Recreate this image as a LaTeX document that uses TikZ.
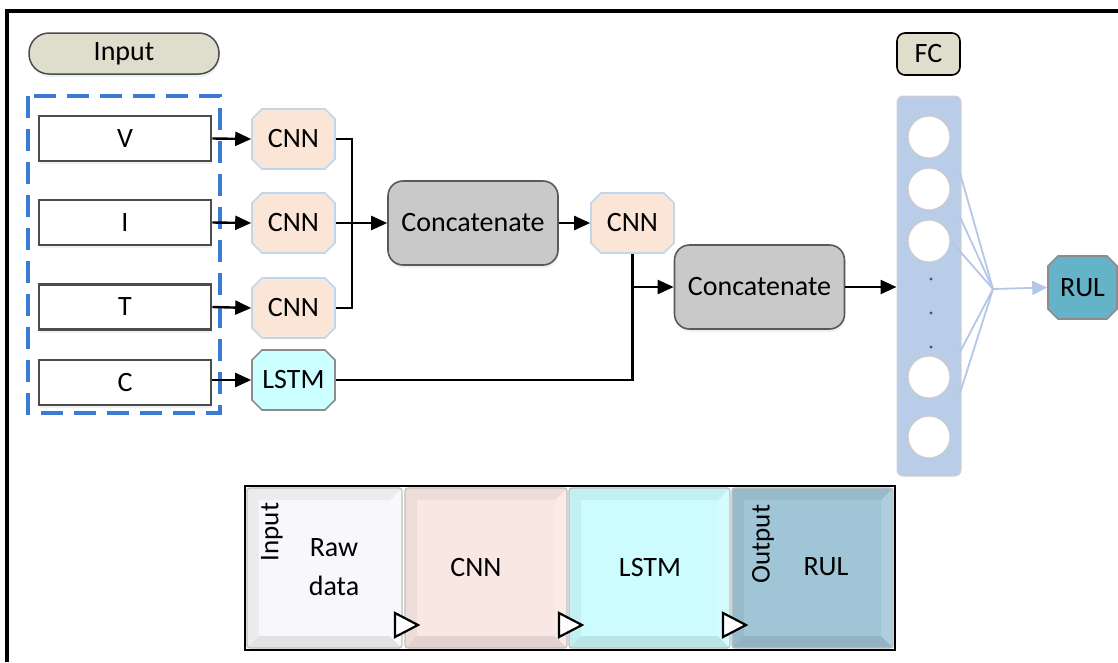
\documentclass[tikz,border=0pt]{standalone}
\usepackage{fontspec}
\setmainfont{Carlito}
\usetikzlibrary{shapes.misc,arrows.meta,shadows,calc}

\definecolor{pillfill}{HTML}{DFDECD}
\definecolor{cnnfill}{HTML}{FBE5D6}
\definecolor{cnnline}{HTML}{BDD7EE}
\definecolor{lstmfill}{HTML}{CCFFFF}
\definecolor{catfill}{HTML}{C9C9C9}
\definecolor{fcpanel}{HTML}{B9CDE8}
\definecolor{fcwire}{HTML}{B4C7E7}
\definecolor{rulfill}{HTML}{65B3C9}
\definecolor{dashblue}{HTML}{3A7BD5}
\definecolor{dotblue}{HTML}{2F5597}
\definecolor{tileA}{HTML}{F8F8FC}
\definecolor{tileB}{HTML}{F9E7E3}
\definecolor{tileC}{HTML}{CCFCFE}
\definecolor{tileD}{HTML}{9FC5D6}
\definecolor{glow}{HTML}{C9DAF0}

% bevelled legend tile: x1, y1, x2, y2, colour
\newcommand\bevtile[5]{%
  \fill[#5!91!black] (#1,#2) rectangle (#3,#4);
  \fill[#5!95!black] (#1,#2) -- (#3,#2) -- (#3-12,#2+12) -- (#1+12,#2+12) -- cycle;
  \fill[#5!95!black] (#1,#2) -- (#1+12,#2+12) -- (#1+12,#4-12) -- (#1,#4) -- cycle;
  \fill[#5!85!white] (#3,#2) -- (#3-12,#2+12) -- (#3-12,#4-12) -- (#3,#4) -- cycle;
  \fill[#5] (#1+12,#2+12) rectangle (#3-12,#4-12);
  \draw[gray!50, line width=1.2pt, rounded corners=3pt] (#1,#2) rectangle (#3,#4);
}

\tikzset{
  every node/.style={font=\fontsize{28}{33}\selectfont, inner sep=0pt},
  glowshadow/.style={drop shadow={shadow xshift=1pt, shadow yshift=-3pt, opacity=0.35, fill=glow}},
  pill/.style={draw=black!70, line width=1.5pt, fill=pillfill, rounded corners=20pt,
    minimum width=190pt, minimum height=41pt, glowshadow},
  inbox/.style={draw=black!70, line width=2.6pt, fill=white,
    minimum width=172pt, minimum height=45pt, glowshadow},
  cnnbox/.style={chamfered rectangle, chamfered rectangle xsep=5pt, chamfered rectangle ysep=5pt,
    draw=cnnline, line width=1.6pt, fill=cnnfill, minimum width=83pt, minimum height=60pt},
  lstmbox/.style={cnnbox, draw=black!45, fill=lstmfill},
  concat/.style={draw=black!65, line width=1.6pt, fill=catfill, rounded corners=15pt,
    minimum width=170pt, minimum height=84pt, glowshadow},
  fclabel/.style={draw=black, line width=1.6pt, fill=pillfill, rounded corners=8pt,
    minimum width=63pt, minimum height=42pt},
  fcpan/.style={draw=black!18, line width=1pt, fill=fcpanel, rounded corners=6pt,
    minimum width=64pt, minimum height=380pt},
  neuron/.style={circle, draw=black!20, line width=1.2pt, fill=white, minimum size=42pt},
  rulbox/.style={cnnbox, draw=black!45, fill=rulfill, minimum width=69pt, minimum height=63pt},
  wire/.style={line width=2.4pt, black},
  arr/.style={wire, -{Triangle[length=16pt,width=14pt]}},
  fcw/.style={line width=1.8pt, fcwire},
  hollow/.style={draw=black, line width=2.2pt, fill=white, line join=miter},
}

\begin{document}
\begin{tikzpicture}[x=1pt, y=-1pt]
\useasboundingbox (0,0) rectangle (1118,662);

% frame
\draw[line width=3.2pt] (7,662) -- (7,11) -- (1118,11);

% input group
\node[pill] (inp) at (124,53.5) {Input};
\draw[dashblue, line width=3.2pt, dash pattern=on 22pt off 11pt] (28,96) rectangle (220,413);
\node[inbox] (v) at (125,138.5) {V};
\node[inbox] (i) at (125,222.5) {I};
\node[inbox] (t) at (125,307) {T};
\node[inbox] (c) at (125,382.5) {C};

% first stage
\node[cnnbox] (cv) at (293.5,139) {CNN};
\node[cnnbox] (ci) at (293.5,223) {CNN};
\node[cnnbox] (ct) at (293.5,308) {CNN};
\node[lstmbox] (lstm) at (293.5,380) {LSTM};

\draw[arr] (v.east) -- (cv.west);
\draw[arr] (i.east) -- (ci.west);
\draw[arr] (t.east) -- (ct.west);
\draw[arr] (c.east |- lstm.west) -- (lstm.west);

% merge of the CNN branches
\node[concat] (cat1) at (473,223) {Concatenate};
\coordinate (bus) at (352,223);
\draw[wire] (cv.east) -| (bus) |- (ct.east);
\draw[arr] (ci.east) -- (cat1.west);

\node[cnnbox] (c3) at (632.5,223) {CNN};
\draw[arr] (cat1.east) -- (c3.west);

\node[concat] (cat2) at (759.5,287) {Concatenate};
\draw[wire] (lstm.east) -| (c3.south);
\coordinate (j) at (c3.south |- cat2.west);
\draw[arr] (j) -- (cat2.west);

% fully connected layer
\node[fclabel] (fcl) at (928.5,54) {FC};
\node[fcpan] (fc) at (929,286) {};
\draw[arr] (cat2.east) -- (fc.west |- cat2.east);

\coordinate (hub) at (993,289);
\coordinate (e1) at (960,173);
\coordinate (e2) at (960,217);
\coordinate (e3) at (950,240);
\coordinate (e4) at (960,352);
\coordinate (e5) at (960,393);
\foreach \e in {e1,e2,e3,e4,e5} \draw[fcw] (\e) -- (hub);

\node[neuron] (n1) at (929,137) {};
\node[neuron] (n2) at (929,189) {};
\node[neuron] (n3) at (929,241) {};
\node[neuron] (n4) at (929,377) {};
\node[neuron] (n5) at (929,437) {};
\foreach \y in {279,313,347} \fill[dotblue] (931,\y) circle (1.6pt);

\node[rulbox] (rul) at (1082.5,287.5) {RUL};
\draw[fcw, -{Triangle[length=15pt,width=14pt]}] (hub) -- (rul.west);

% legend strip
\bevtile{247}{488}{402}{648}{tileA}
\bevtile{405}{488}{567}{648}{tileB}
\bevtile{569}{488}{730}{648}{tileC}
\bevtile{732}{488}{893}{648}{tileD}
\draw[line width=2.4pt] (245,486) rectangle (895,650);

\node[rotate=90, font=\fontsize{27}{30}\selectfont] (lin) at (272,532) {Input};
\node[align=center, font=\fontsize{28}{39}\selectfont] (lraw) at (334,567) {Raw\\data};
\node (lcnn) at (476,567) {CNN};
\node (llstm) at (650,567) {LSTM};
\node[rotate=90, font=\fontsize{27}{30}\selectfont] (lout) at (763,544) {Output};
\node (lrul) at (826,567) {RUL};

\foreach \x in {395,559,723}
  \draw[hollow] (\x,613) -- (\x+23,625) -- (\x,637) -- cycle;
\end{tikzpicture}
\end{document}
